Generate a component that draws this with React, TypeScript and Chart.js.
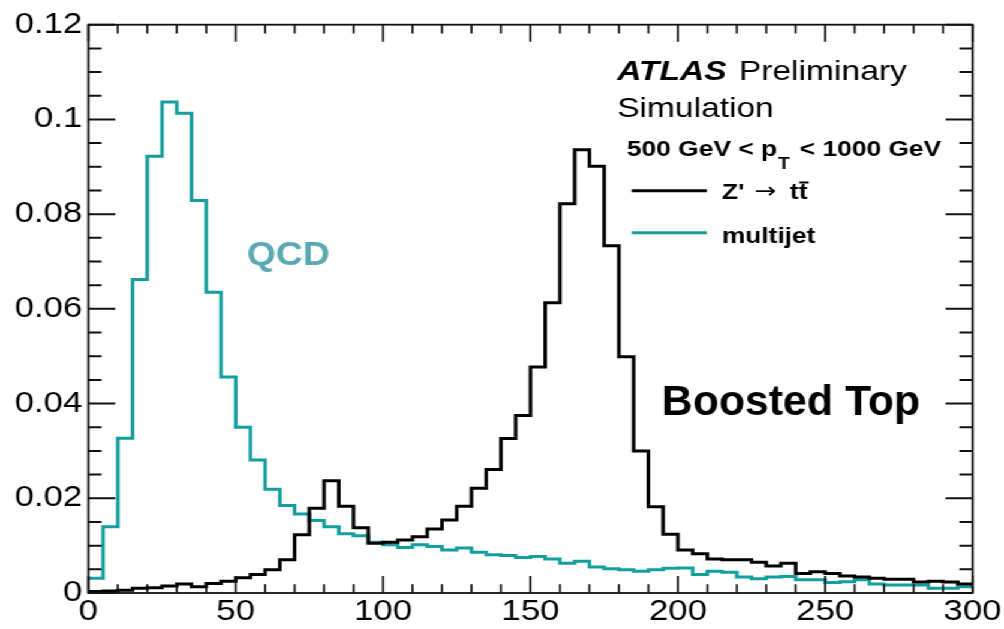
import { useEffect, useRef } from "react";
import { Chart, registerables } from "chart.js";

Chart.register(...registerables);

// Histogram binning (GeV)
const BIN_WIDTH = 5;
const X_MIN = 0;
const X_MAX = 300;
const Y_MIN = 0;
const Y_MAX = 0.12;

// Normalised jet-mass distributions, one value per 5 GeV bin (0-300 GeV)
const zprimeTTbar = [
  0.0003, 0.0004, 0.0006, 0.001, 0.0011, 0.0015, 0.0019, 0.0013, 0.002, 0.0025,
  0.0032, 0.0039, 0.0049, 0.007, 0.0123, 0.0179, 0.0237, 0.0183, 0.0138, 0.0105,
  0.0107, 0.0112, 0.0119, 0.0135, 0.0154, 0.0183, 0.0221, 0.0261, 0.0326, 0.0375,
  0.0477, 0.0613, 0.0822, 0.0936, 0.0901, 0.0733, 0.0499, 0.03, 0.0182, 0.0124,
  0.0091, 0.0083, 0.0072, 0.007, 0.007, 0.0065, 0.0057, 0.0063, 0.0041, 0.0045,
  0.0041, 0.0036, 0.0034, 0.0031, 0.0029, 0.0029, 0.0023, 0.0025, 0.0023, 0.0019,
];

const multijet = [
  0.0031, 0.014, 0.0327, 0.0662, 0.0922, 0.1037, 0.1013, 0.0829, 0.0635, 0.0456,
  0.035, 0.0281, 0.0219, 0.0185, 0.0167, 0.0153, 0.014, 0.0125, 0.0121, 0.0107,
  0.0102, 0.0096, 0.0102, 0.0098, 0.0091, 0.0095, 0.0086, 0.0081, 0.0079, 0.0075,
  0.0077, 0.0072, 0.0063, 0.0067, 0.0055, 0.0051, 0.0049, 0.0046, 0.0049, 0.0052,
  0.0053, 0.0039, 0.0046, 0.0044, 0.0034, 0.003, 0.0034, 0.0035, 0.0028, 0.0028,
  0.0022, 0.0024, 0.0028, 0.0019, 0.0017, 0.0017, 0.0017, 0.001, 0.001, 0.0013,
];

const X_TICK_LABELS = ["0", "50", "100", "150", "200", "250", "300"];
const Y_TICK_LABELS = ["0", "0.02", "0.04", "0.06", "0.08", "0.1", "0.12"];
const X_MAJOR_STEP = 50;
const X_MINOR_STEP = 10;
const Y_MAJOR_STEP = 0.02;
const Y_MINOR_STEP = 0.005;

const SERIES_LABELS = ["Z' \u2192 tt\u0304", "multijet"];

// The plot is laid out on a 4:3-ish canvas and widened horizontally, like a ROOT canvas
const CANVAS_W = 837;
const CANVAS_H = 629;
const STRETCH = 1004 / CANVAS_W;

const FONT = '"Liberation Sans", Arial, Helvetica, sans-serif';
const BLACK = "#000000";
const TEAL = "#139e9e";
const QCD_TEAL = "#5aa8b2";

function toSteps(values: number[]) {
  const pts = values.map((v, i) => ({ x: X_MIN + i * BIN_WIDTH, y: v }));
  pts.push({ x: X_MIN + values.length * BIN_WIDTH, y: values[values.length - 1] });
  return pts;
}

// Box frame with inward ticks on all four sides
const frameAndTicks = {
  id: "frameAndTicks",
  afterDatasetsDraw(chart: any) {
    const { ctx, chartArea: a, scales } = chart;
    const xs = scales.x;
    const ys = scales.y;
    ctx.save();
    ctx.strokeStyle = "#111";
    ctx.lineWidth = 1.8;
    ctx.strokeRect(a.left, a.top, a.right - a.left, a.bottom - a.top);

    ctx.lineWidth = 2;
    const nY = Math.round((Y_MAX - Y_MIN) / Y_MINOR_STEP);
    const perMajorY = Math.round(Y_MAJOR_STEP / Y_MINOR_STEP);
    for (let k = 0; k <= nY; k++) {
      const y = ys.getPixelForValue(Y_MIN + k * Y_MINOR_STEP);
      const len = k % perMajorY === 0 ? 22.5 : 11;
      ctx.beginPath();
      ctx.moveTo(a.left, y);
      ctx.lineTo(a.left + len, y);
      ctx.moveTo(a.right, y);
      ctx.lineTo(a.right - len, y);
      ctx.stroke();
    }

    ctx.lineWidth = 1.7;
    const nX = Math.round((X_MAX - X_MIN) / X_MINOR_STEP);
    const perMajorX = Math.round(X_MAJOR_STEP / X_MINOR_STEP);
    for (let k = 0; k <= nX; k++) {
      const x = xs.getPixelForValue(X_MIN + k * X_MINOR_STEP);
      const len = k % perMajorX === 0 ? 17 : 8.7;
      ctx.beginPath();
      ctx.moveTo(x, a.bottom);
      ctx.lineTo(x, a.bottom - len);
      ctx.moveTo(x, a.top);
      ctx.lineTo(x, a.top + len);
      ctx.stroke();
    }
    ctx.restore();
  },
};

// ATLAS label, selection text, legend and annotations
const annotations = {
  id: "annotations",
  afterDraw(chart: any) {
    const { ctx } = chart;
    ctx.save();
    ctx.textBaseline = "alphabetic";
    ctx.textAlign = "left";
    ctx.fillStyle = BLACK;

    ctx.font = `italic bold 28px ${FONT}`;
    ctx.fillText("ATLAS", 514.4, 80);
    ctx.font = `28px ${FONT}`;
    ctx.fillText("Preliminary", 616, 80);
    ctx.fillText("Simulation", 514.4, 117);

    // 500 GeV < pT < 1000 GeV
    let x = 522.5;
    ctx.font = `bold 22px ${FONT}`;
    ctx.fillText("500 GeV < p", x, 156);
    x += ctx.measureText("500 GeV < p").width + 1;
    ctx.font = `bold 16px ${FONT}`;
    ctx.fillText("T", x, 169);
    x += ctx.measureText("T").width + 2;
    ctx.font = `bold 22px ${FONT}`;
    ctx.fillText(" < 1000 GeV", x, 156);

    // legend
    ctx.lineWidth = 3;
    ctx.strokeStyle = BLACK;
    ctx.beginPath();
    ctx.moveTo(526.6, 190.7);
    ctx.lineTo(589.2, 190.7);
    ctx.stroke();
    ctx.strokeStyle = TEAL;
    ctx.beginPath();
    ctx.moveTo(526.6, 232.7);
    ctx.lineTo(589.2, 232.7);
    ctx.stroke();

    ctx.fillStyle = BLACK;
    ctx.font = `bold 22px ${FONT}`;
    ctx.fillText("Z'", 601.7, 199);
    ctx.font = `22px "DejaVu Sans", ${FONT}`;
    ctx.fillText("\u2192", 629, 198);
    ctx.font = `bold 22px ${FONT}`;
    const tx = 658.6;
    ctx.fillText("tt", tx, 199);
    const tW = ctx.measureText("t").width;
    ctx.lineWidth = 2;
    ctx.strokeStyle = BLACK;
    ctx.beginPath();
    ctx.moveTo(tx + tW + 0.5, 182.5);
    ctx.lineTo(tx + 2 * tW + 1, 182.5);
    ctx.stroke();
    ctx.fillText(SERIES_LABELS[1], 601.7, 242.7);

    // QCD annotation
    ctx.save();
    ctx.translate(205.7, 265);
    ctx.scale(1.1 / STRETCH, 1);
    ctx.fillStyle = QCD_TEAL;
    ctx.font = `bold 34px ${FONT}`;
    ctx.fillText("QCD", 0, 0);
    ctx.restore();

    // Boosted Top annotation
    ctx.save();
    ctx.translate(551.6, 415);
    ctx.scale(1.02 / STRETCH, 1);
    ctx.fillStyle = BLACK;
    ctx.font = `bold 42px ${FONT}`;
    ctx.fillText("Boosted Top", 0, 0);
    ctx.restore();

    ctx.restore();
  },
};

export default function App() {
  const canvasRef = useRef<HTMLCanvasElement | null>(null);

  useEffect(() => {
    const canvas = canvasRef.current;
    if (!canvas) return;
    const tickFont = { family: FONT, size: 29 };
    const chart = new Chart(canvas, {
      type: "line",
      data: {
        datasets: [
          {
            label: SERIES_LABELS[0],
            data: toSteps(zprimeTTbar),
            borderColor: BLACK,
            borderWidth: 3,
            stepped: true,
            pointRadius: 0,
            fill: false,
          },
          {
            label: SERIES_LABELS[1],
            data: toSteps(multijet),
            borderColor: TEAL,
            borderWidth: 3,
            stepped: true,
            pointRadius: 0,
            fill: false,
          },
        ],
      },
      options: {
        animation: false,
        responsive: true,
        maintainAspectRatio: false,
        events: [],
        layout: { padding: { top: 24.7, right: 23.6, left: 0, bottom: 0 } },
        plugins: { legend: { display: false }, tooltip: { enabled: false } },
        scales: {
          x: {
            type: "linear",
            min: X_MIN,
            max: X_MAX,
            grid: { display: false, drawTicks: false },
            border: { display: false },
            ticks: {
              stepSize: X_MAJOR_STEP,
              autoSkip: false,
              maxRotation: 0,
              minRotation: 0,
              padding: 2,
              color: BLACK,
              font: tickFont,
              callback: (v: any) => X_TICK_LABELS[Math.round(Number(v) / X_MAJOR_STEP)] ?? "",
            },
            afterFit: (s: any) => {
              s.height = 36;
            },
          },
          y: {
            type: "linear",
            min: Y_MIN,
            max: Y_MAX,
            grid: { display: false, drawTicks: false },
            border: { display: false },
            ticks: {
              stepSize: Y_MAJOR_STEP,
              autoSkip: false,
              padding: 5,
              color: BLACK,
              font: tickFont,
              callback: (v: any) => Y_TICK_LABELS[Math.round(Number(v) / Y_MAJOR_STEP)] ?? "",
            },
            afterFit: (s: any) => {
              s.width = 73.6;
            },
          },
        },
      },
      plugins: [frameAndTicks, annotations],
    });
    return () => chart.destroy();
  }, []);

  return (
    <div
      style={{
        position: "fixed",
        left: 0,
        top: 0,
        width: CANVAS_W,
        height: CANVAS_H,
        background: "#fff",
        transform: `scaleX(${STRETCH})`,
        transformOrigin: "0 0",
      }}
    >
      <canvas ref={canvasRef} />
    </div>
  );
}
